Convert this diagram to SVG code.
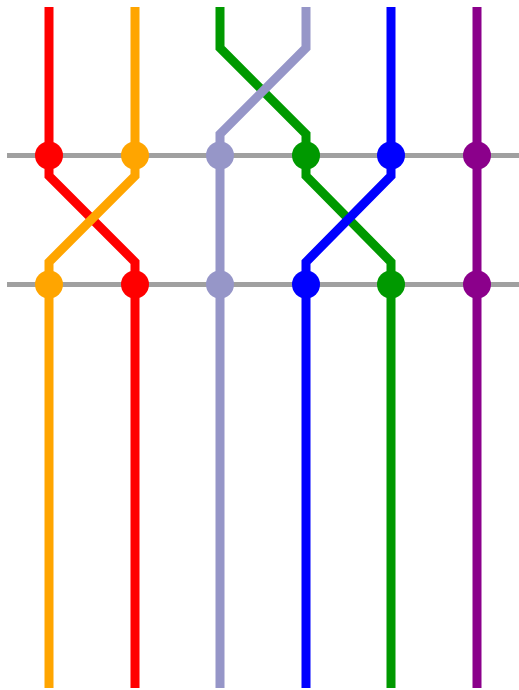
<svg xmlns="http://www.w3.org/2000/svg" width="519" height="690" viewBox="0 0 519 690">
  <style>
    .rail { stroke: #a0a0a0; stroke-width: 5; fill: none; }
    .track { fill: none; stroke-width: 9; stroke-linejoin: miter; stroke-linecap: butt; }
    .red { stroke: #ff0000; } .redf { fill: #ff0000; }
    .orange { stroke: #ffa500; } .orangef { fill: #ffa500; }
    .lav { stroke: #9696c8; } .lavf { fill: #9696c8; }
    .green { stroke: #009900; } .greenf { fill: #009900; }
    .blue { stroke: #0000ff; } .bluef { fill: #0000ff; }
    .purple { stroke: #8b008b; } .purplef { fill: #8b008b; }
  </style>
  <rect width="519" height="690" fill="#ffffff"/>
  <g id="rails">
    <line class="rail" x1="7" y1="155.5" x2="519" y2="155.5"/>
    <line class="rail" x1="7" y1="284.5" x2="519" y2="284.5"/>
  </g>
  <g id="connectors">
    <path class="track green" d="M220,7 V48 L306,134 V176 L391,262 V688"/>
    <path class="track lav" d="M306,7 V48 L220,134 V688"/>
    <path class="track red" d="M49,7 V176 L135,262 V688"/>
    <path class="track orange" d="M135,7 V176 L49,262 V688"/>
    <path class="track blue" d="M391,7 V176 L306,262 V688"/>
    <path class="track purple" d="M477,7 V688"/>
  </g>
  <g id="n-red-1"><circle class="redf" cx="49" cy="155.5" r="14"/></g>
  <g id="n-orange-1"><circle class="orangef" cx="135" cy="155.5" r="14"/></g>
  <g id="n-lav-1"><circle class="lavf" cx="220" cy="155.5" r="14"/></g>
  <g id="n-green-1"><circle class="greenf" cx="306" cy="155.5" r="14"/></g>
  <g id="n-blue-1"><circle class="bluef" cx="391" cy="155.5" r="14"/></g>
  <g id="n-purple-1"><circle class="purplef" cx="477" cy="155.5" r="14"/></g>
  <g id="n-orange-2"><circle class="orangef" cx="49" cy="284.5" r="14"/></g>
  <g id="n-red-2"><circle class="redf" cx="135" cy="284.5" r="14"/></g>
  <g id="n-lav-2"><circle class="lavf" cx="220" cy="284.5" r="14"/></g>
  <g id="n-blue-2"><circle class="bluef" cx="306" cy="284.5" r="14"/></g>
  <g id="n-green-2"><circle class="greenf" cx="391" cy="284.5" r="14"/></g>
  <g id="n-purple-2"><circle class="purplef" cx="477" cy="284.5" r="14"/></g>
</svg>
